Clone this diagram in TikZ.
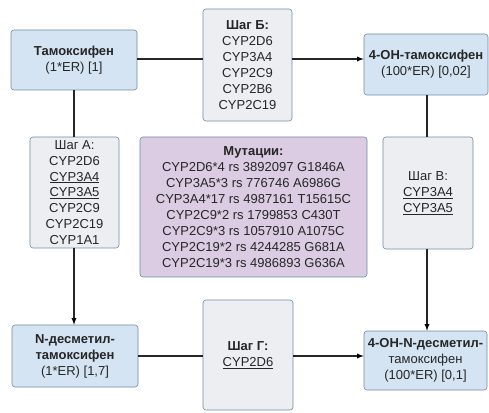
\documentclass[tikz,border=0pt]{standalone}
\usepackage{fontspec}
\setmainfont{Liberation Sans}
\usepackage{tikz}
\usepackage{xcolor}
\usetikzlibrary{arrows, positioning}

\definecolor{boxblue}{HTML}{D4E4F2}
\definecolor{boxgray}{HTML}{ECEEF1}
\definecolor{boxlila}{HTML}{DBCCE4}
\definecolor{boxline}{HTML}{6F8CA2}
\definecolor{ink}{HTML}{262626}

\begin{document}
\begin{tikzpicture}[x=1pt, y=1pt,
        font=\fontsize{13}{15.9}\selectfont, text=ink,
        box/.style={draw=boxline, line width=0.6pt, rounded corners=3pt, align=center, inner sep=2pt},
        substance/.style={box, fill=boxblue},
        enzymes/.style={box, fill=boxgray},
        mutations/.style={box, fill=boxlila},
        link/.style={draw=ink, line width=1.3pt}]
                        \useasboundingbox (0, 0) rectangle (489, 412);
                        \node[substance, minimum width=126, minimum height=60] (tam) at (74, 352) {\textbf{Тамоксифен}\\(1*ER) [1]};
                        \node[enzymes, minimum width=89, minimum height=112] (shagB) at (247.5, 347) {\textbf{Шаг Б:}\\CYP2D6\\CYP3A4\\CYP2C9\\CYP2B6\\CYP2C19};
                        \node[substance, minimum width=124, minimum height=61] (oh) at (426, 347.5) {\textbf{4-OH-тамоксифен}\\(100*ER) [0,02]};
                        \node[enzymes, minimum width=89, minimum height=111] (shagA) at (74.5, 219.5) {Шаг А:\\CYP2D6\\\underline{CYP3A4}\\\underline{CYP3A5}\\CYP2C9\\CYP2C19\\CYP1A1};
                        \node[mutations, minimum width=227, minimum height=140] (mut) at (253.5, 205) {\textbf{Мутации:}\\CYP2D6*4 rs 3892097 G1846A\\CYP3A5*3 rs 776746 A6986G\\CYP3A4*17 rs 4987161 T15615C\\CYP2C9*2 rs 1799853 C430T\\CYP2C9*3 rs 1057910 A1075C\\CYP2C19*2 rs 4244285 G681A\\CYP2C19*3 rs 4986893 G636A};
                        \node[enzymes, minimum width=90, minimum height=112] (shagV) at (428, 219) {Шаг В:\\\underline{CYP3A4}\\\underline{CYP3A5}};
                        \node[substance, minimum width=126, minimum height=62] (ndes) at (75, 56) {\textbf{N-десметил-}\\\textbf{тамоксифен}\\(1*ER) [1,7]};
                        \node[enzymes, minimum width=90, minimum height=110] (shagG) at (248, 57) {\textbf{Шаг Г:}\\\underline{CYP2D6}};
                        \node[substance, minimum width=123, minimum height=59] (ohn) at (425.5, 51.5) {\textbf{4-OH-N-десметил-}\\тамоксифен\\(100*ER) [0,1]};
                        \draw[link]
                        (tam.east |- 0, 353) edge (shagB.west |- 0, 353)
                        (shagB.east |- 0, 353) edge[-latex] (oh.west |- 0, 353)
                        (tam.south) edge (shagA.north -| tam.south)
                        (shagA.south -| tam.south) edge[-latex] (ndes.north -| tam.south)
                        (oh.south -| 427, 0) edge (shagV.north -| 427, 0)
                        (shagV.south -| 427, 0) edge[-latex] (ohn.north -| 427, 0)
                        (ndes.east |- 0, 56) edge (shagG.west |- 0, 56)
                        (shagG.east |- 0, 56) edge[-latex] (ohn.west |- 0, 56);
                    \end{tikzpicture}
\end{document}
